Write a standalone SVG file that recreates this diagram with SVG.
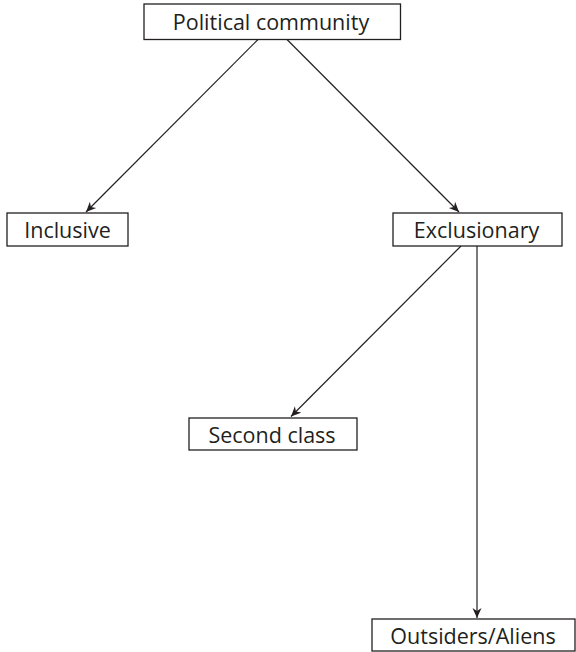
<svg xmlns="http://www.w3.org/2000/svg" width="576" height="652" viewBox="0 0 576 652">
<defs>
<style>
.box{fill:#fff;stroke:#231f20;stroke-width:1.3}
.lbl{font-family:"Open Sans","Liberation Sans",sans-serif;font-size:21.5px;fill:#231f20;text-anchor:middle}
.edge{stroke:#231f20;stroke-width:1.2;fill:none;marker-end:url(#ah)}
</style>
<marker id="ah" viewBox="0 0 10 10" refX="10" refY="5" markerWidth="10" markerHeight="10" markerUnits="userSpaceOnUse" orient="auto">
<path d="M0,0.5 L10,5 L0,9.5 L3,5 Z" fill="#231f20"/>
</marker>
</defs>
<rect width="576" height="652" fill="#fff"/>
<g id="connectors">
<line class="edge" x1="258" y1="39.5" x2="86" y2="212"/>
<line class="edge" x1="287" y1="39.5" x2="459" y2="212"/>
<line class="edge" x1="461" y1="246" x2="291" y2="416.5"/>
<line class="edge" x1="477" y1="246" x2="477" y2="618"/>
</g>
<g id="political-community">
<rect class="box" x="144" y="4" width="256.5" height="35.5"/>
<text class="lbl" x="271" y="29.5">Political community</text>
</g>
<g id="inclusive">
<rect class="box" x="7" y="213" width="121" height="33"/>
<text class="lbl" x="67.5" y="238">Inclusive</text>
</g>
<g id="exclusionary">
<rect class="box" x="393" y="213" width="169" height="33"/>
<text class="lbl" x="476.5" y="238">Exclusionary</text>
</g>
<g id="second-class">
<rect class="box" x="189" y="418" width="168" height="32"/>
<text class="lbl" x="272" y="442.5">Second class</text>
</g>
<g id="outsiders-aliens">
<rect class="box" x="372" y="619" width="203" height="32"/>
<text class="lbl" x="473" y="643.5">Outsiders/Aliens</text>
</g>
</svg>
